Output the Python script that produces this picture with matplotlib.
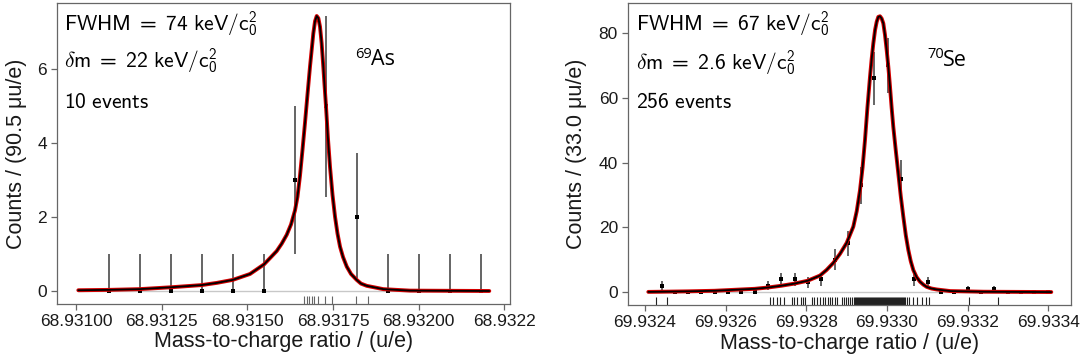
import numpy as np
import matplotlib
matplotlib.use("Agg")
import matplotlib.pyplot as plt
from matplotlib.transforms import blended_transform_factory

plt.rcParams['font.family'] = ['Liberation Sans', 'DejaVu Sans']
plt.rcParams['mathtext.fontset'] = 'custom'
plt.rcParams['mathtext.rm'] = 'cmss10'
plt.rcParams['mathtext.sf'] = 'cmss10'
plt.rcParams['mathtext.it'] = 'cmmi10'
plt.rcParams['mathtext.fallback'] = 'cm'

# ---------------- data: 69As (left) ----------------
as_bin_centers = [68.931095, 68.9311855, 68.931276, 68.9313665, 68.931457, 68.9315475,
                  68.931638, 68.9317285, 68.931819, 68.9319095, 68.932000, 68.9320905, 68.932181]
as_counts = [0, 0, 0, 0, 0, 0, 3, 5, 2, 0, 0, 0, 0]
as_err_low = [0, 0, 0, 0, 0, 0, 2.0, 2.45, 1.65, 0, 0, 0, 0]
as_err_high = [1, 1, 1, 1, 1, 1, 2.0, 2.45, 1.73, 1, 1, 1, 1]
as_fit_x = [68.9310067, 68.9310943, 68.9311847, 68.9312763, 68.9313668, 68.9314114,
            68.9314573, 68.9315077, 68.9315486, 68.9315856, 68.9316002, 68.9316148,
            68.9316274, 68.9316390, 68.9316463, 68.9316536, 68.9316609, 68.9316682,
            68.9316755, 68.9316828, 68.9316880, 68.9316925, 68.9316975, 68.9317024,
            68.9317072, 68.9317120, 68.9317168, 68.9317216, 68.9317250, 68.9317295,
            68.9317350, 68.9317412, 68.9317485, 68.9317558, 68.9317631, 68.9317704,
            68.9317791, 68.9317900, 68.9318025, 68.9318191, 68.9318316, 68.9318483,
            68.9318967, 68.9319746, 68.9322060]
as_fit_y = [0.02, 0.03, 0.05, 0.10, 0.16, 0.22,
            0.30, 0.46, 0.72, 1.08, 1.28, 1.52,
            1.80, 2.18, 2.55, 3.12, 3.82, 4.55,
            5.32, 6.07, 6.55, 6.97, 7.30, 7.44,
            7.38, 7.15, 6.70, 6.07, 5.60, 4.99,
            4.15, 3.36, 2.60, 2.01, 1.55, 1.20,
            0.92, 0.66, 0.46, 0.30, 0.20, 0.14,
            0.05, 0.01, 0.0]
as_events = [68.9316653, 68.9316732, 68.9316799, 68.9316878, 68.9316954,
             68.9317070, 68.9317257, 68.9317470, 68.9318162, 68.9318529]
as_xticks = [68.93100, 68.93125, 68.93150, 68.93175, 68.93200, 68.93225]
as_xticklabels = ['68.93100', '68.93125', '68.93150', '68.93175', '68.93200', '68.9322']
as_yticks = [0, 2, 4, 6]

# ---------------- data: 70Se (right) ----------------
se_bin_centers = [69.932441, 69.932474, 69.932507, 69.932540, 69.932573, 69.932606,
                  69.932639, 69.932672, 69.932705, 69.932738, 69.932771, 69.932804,
                  69.932837, 69.932870, 69.932903, 69.932936, 69.932969, 69.933002,
                  69.933035, 69.933068, 69.933101, 69.933134, 69.933167, 69.933200,
                  69.933233, 69.933266, 69.933299, 69.933332, 69.933365, 69.933398]
se_counts = [2, 0, 0, 0, 0, 0, 0, 0, 2, 4, 4, 3, 4, 10, 15,
             33, 66, 70, 35, 4, 3, 0, 0, 1, 0, 1, 0, 0, 0, 0]
se_err = [1.41, 0, 0, 0, 0, 0, 0, 0, 1.41, 2.0, 2.0, 1.73, 2.0, 3.16, 3.87,
          5.74, 8.12, 8.37, 5.92, 2.0, 1.73, 0, 0, 1.0, 0, 1.0, 0, 0, 0, 0]
se_fit_origin = 69.9324
se_fit_offset_uu = [8.2, 40.4, 106.6, 172.8, 272.0, 305.0, 338.0, 370.2, 403.4, 433.9,
                    450.0, 466.9, 483.5, 500.1, 516.5, 525.0, 533.1, 539.5, 545.5,
                    551.5, 557.9, 562.0, 566.1, 570.5, 574.5, 578.5, 582.7, 586.8,
                    590.9, 595.0, 599.3, 603.4, 607.5, 611.5, 615.7, 622.0, 628.1,
                    634.3, 640.5, 646.7, 652.9, 659.0, 665.3, 673.5, 681.9, 690.0,
                    698.5, 710.0, 723.3, 757.0, 839.8, 1007.4]
se_fit_y = [0.05, 0.1, 0.22, 0.4, 1.0, 1.4, 1.95, 2.6, 3.5, 5.1,
            6.8, 9.0, 11.8, 15.2, 20.2, 25.0, 31.5, 38.5, 47.0,
            57.0, 66.5, 72.0, 76.8, 81.0, 83.5, 85.0, 85.2, 84.5,
            83.0, 79.5, 74.7, 69.5, 63.4, 57.0, 51.0, 43.5, 36.6,
            29.5, 23.3, 17.5, 13.0, 9.5, 6.8, 4.6, 3.2, 2.3,
            1.6, 1.1, 0.8, 0.3, 0.1, 0.0]
se_events_offset_uu = [27, 55, 310, 317, 328, 335, 345, 364, 370, 376, 386, 391, 396,
                       413, 419, 426, 434, 441, 447, 453, 459, 464, 470, 475,
                       488, 493, 498, 503, 508, 513, 518,
                       521, 523, 526, 528, 531, 533, 536, 538, 541, 543, 546, 548, 550,
                       553, 555, 558, 560, 563, 565, 568, 570, 573, 575, 578, 580, 583,
                       585, 588, 590, 593, 595, 598, 600, 603, 605, 607, 610, 612, 615,
                       617, 620, 622, 625, 627, 630, 632, 635, 637, 640, 642, 645,
                       649, 655, 665, 674, 686, 697, 703, 803, 876]
se_xticks = [69.9324, 69.9326, 69.9328, 69.9330, 69.9332, 69.9334]
se_xticklabels = ['69.9324', '69.9326', '69.9328', '69.9330', '69.9332', '69.9334']
se_yticks = [0, 20, 40, 60, 80]

# ---------------- figure ----------------
W, H = 1089, 363
fig = plt.figure(figsize=(W / 100, H / 100), dpi=100)


def px_rect(l, t, r, b):
    return [l / W, 1 - b / H, (r - l) / W, (b - t) / H]


def ftext(x, y, s, **kw):
    fig.text(x / W, 1 - y / H, s, **kw)


axL = fig.add_axes(px_rect(57.3, 2.7, 510, 304))
axR = fig.add_axes(px_rect(628.3, 3.3, 1071.3, 305))


def draw_panel(ax, centers, counts, elo, ehi, fx, fy, events, xlim, ylim,
               xticks, xticklabels, yticks, ylabel, ylabelpad, rug_color):
    centers = np.asarray(centers)
    counts = np.asarray(counts, dtype=float)
    elo = np.asarray(elo, dtype=float)
    ehi = np.asarray(ehi, dtype=float)
    fx = np.asarray(fx)
    ax.hlines(0, fx[0], fx[-1], color='#c8c8c8', lw=1.0, zorder=1)
    has = (elo + ehi) > 0
    ax.vlines(centers[has], (counts - elo)[has], (counts + ehi)[has],
              color='#3a3a3a', lw=1.1, zorder=2)
    ax.plot(centers, counts, 's', ms=3.2, color='black', mew=0, zorder=3)
    ax.plot(fx, fy, color='#d40000', lw=2.8, solid_capstyle='round',
            solid_joinstyle='round', zorder=4)
    ax.plot(fx, fy, color='black', lw=1.3, solid_capstyle='round',
            solid_joinstyle='round', zorder=5)
    trans = blended_transform_factory(ax.transData, ax.transAxes)
    ax.vlines(events, 0, 0.027, transform=trans, color=rug_color, lw=0.8, zorder=2)
    ax.set_xlim(*xlim)
    ax.set_ylim(*ylim)
    ax.set_xticks(xticks)
    ax.set_xticklabels(xticklabels)
    ax.set_yticks(yticks)
    ax.tick_params(direction='out', length=4.5, width=0.9, color='#666666',
                   labelsize=12.5, labelcolor='#1a1a1a', pad=3)
    for sp in ax.spines.values():
        sp.set_color('#666666')
        sp.set_linewidth(0.9)
    ax.set_xlabel('Mass-to-charge ratio / (u/e)', fontsize=15.5, labelpad=1.5,
                  color='#1a1a1a')
    ax.set_ylabel(ylabel, fontsize=15.5, labelpad=ylabelpad, color='#1a1a1a')


draw_panel(axL, as_bin_centers, as_counts, as_err_low, as_err_high,
           as_fit_x, as_fit_y, as_events,
           (68.9309454, 68.9322664), (-0.352, 7.80),
           as_xticks, as_xticklabels, as_yticks,
           'Counts / (90.5 μu/e)', 7.5, '#666666')

se_fx = se_fit_origin + np.asarray(se_fit_offset_uu) * 1e-6
se_ev = se_fit_origin + np.asarray(se_events_offset_uu) * 1e-6
draw_panel(axR, se_bin_centers, se_counts, se_err, se_err,
           se_fx, se_fit_y, se_ev,
           (69.9323586, 69.933457), (-4.0, 89.2),
           se_xticks, se_xticklabels, se_yticks,
           'Counts / (33.0 μu/e)', 8.5, '#222222')

# annotations
ann = dict(fontsize=15.5, color='black', va='baseline', ha='left')
ftext(64, 30.7, r'$\mathrm{FWHM}\;=\;\mathrm{74\ keV/c}_{0}^{2}$', **ann)
ftext(64, 68.3, r'$\delta\mathrm{m}\;=\;\mathrm{22\ keV/c}_{0}^{2}$', **ann)
ftext(64, 108.3, r'$\mathrm{10\ events}$', **ann)
ftext(635.7, 31, r'$\mathrm{FWHM}\;=\;\mathrm{67\ keV/c}_{0}^{2}$', **ann)
ftext(635.7, 70, r'$\delta\mathrm{m}\;=\;\mathrm{2.6\ keV/c}_{0}^{2}$', **ann)
ftext(635.7, 108.3, r'$\mathrm{256\ events}$', **ann)

iso_font = ['Open Sans', 'DejaVu Sans']
ftext(354.7, 46.7, '69', fontsize=10.5, family=iso_font, va='top', ha='left')
ftext(371.3, 65, 'As', fontsize=15.5, family=iso_font, va='baseline', ha='left')
ftext(927, 46.7, '70', fontsize=10.5, family=iso_font, va='top', ha='left')
ftext(943, 65.7, 'Se', fontsize=15.5, family=iso_font, va='baseline', ha='left')

fig.savefig('out.png', dpi=100)
